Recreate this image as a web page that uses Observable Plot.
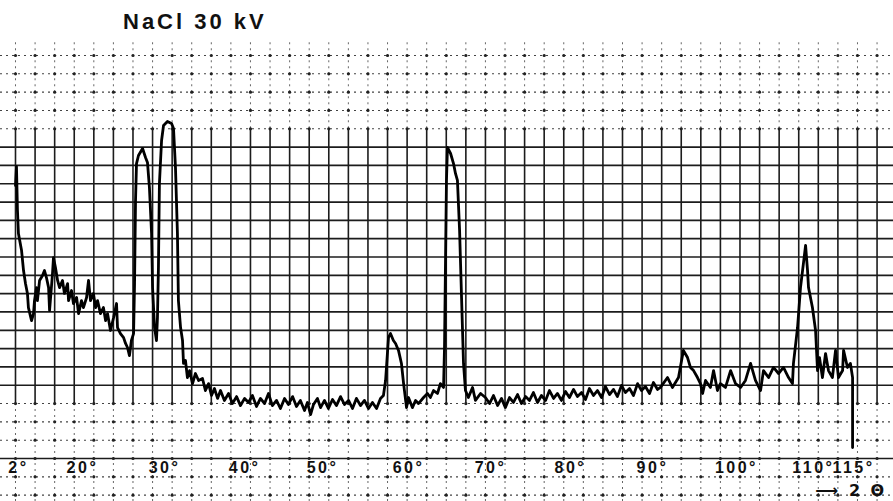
<!DOCTYPE html>
<html><head><meta charset="utf-8">
<script src="https://cdn.jsdelivr.net/npm/d3@7"></script>
<script src="https://cdn.jsdelivr.net/npm/@observablehq/plot@0.6"></script>
<style>
body{margin:0;background:#fff;}
#title{height:40px;font-family:"Liberation Sans",Arial,sans-serif;font-size:22px;font-weight:bold;letter-spacing:3px;color:#111;padding-left:123px;line-height:44px;box-sizing:border-box;}
#chart text{letter-spacing:2.5px;}
#chart text.arrowlabel{letter-spacing:1px;}
</style></head><body>
<div id="title">NaCl 30 kV</div>
<div id="chart"></div>
<script>
// Trace: x = chart-paper divisions along 2θ, y = detector signal in chart divisions
const traceX = [
0.00,0.05,0.10,0.15,0.31,0.41,0.51,0.61,0.66,0.82,0.92,0.97,1.07,1.12,1.23,1.38,1.48,1.58,1.69,1.74,
1.89,1.94,2.04,2.15,2.25,2.40,2.50,2.66,2.71,2.86,2.96,3.12,3.22,3.37,3.47,3.63,3.73,3.83,3.98,4.09,
4.19,4.34,4.49,4.60,4.70,4.85,5.01,5.16,5.21,5.36,5.52,5.62,5.72,5.82,5.92,6.03,6.08,6.13,6.18,6.28,
6.49,6.64,6.74,6.84,6.95,7.00,7.10,7.20,7.25,7.30,7.35,7.46,7.56,7.76,7.97,8.07,8.17,8.27,8.32,8.43,
8.53,8.58,8.68,8.78,8.89,9.04,9.19,9.35,
9.55,9.70,9.86,10.01,10.16,10.32,10.47,10.67,10.88,11.08,11.29,11.49,11.70,11.90,12.10,12.31,12.51,12.72,12.92,13.12,
13.33,13.53,13.74,13.94,14.15,14.35,14.55,14.76,14.91,15.07,15.22,15.42,15.58,15.78,15.98,16.19,16.39,16.60,16.80,17.01,
17.21,17.41,17.62,17.82,18.03,18.23,18.44,18.64,18.79,
18.90,19.05,19.15,19.30,19.41,19.56,19.71,19.82,19.97,20.07,20.27,20.43,20.58,20.84,21.04,21.19,21.35,21.55,21.70,21.86,
21.91,21.96,22.01,22.06,22.22,22.37,22.47,22.57,22.68,22.78,22.88,22.98,23.13,23.34,23.49,23.75,24.00,
24.21,24.41,24.62,24.82,25.02,25.23,25.43,25.64,25.84,26.05,26.25,26.45,26.66,26.86,27.07,27.27,27.48,27.68,27.88,28.09,
28.29,28.50,28.70,28.91,29.11,29.31,29.52,29.72,29.93,30.13,30.34,30.54,30.74,30.95,31.15,31.36,31.56,31.77,31.97,32.17,
32.38,32.58,32.79,
32.94,33.30,33.55,33.86,34.11,34.32,34.47,34.63,34.83,34.98,35.09,35.24,35.49,35.65,35.85,36.00,36.26,36.52,36.77,37.03,
37.28,37.54,37.79,38.05,38.20,38.46,38.71,38.97,39.22,39.48,39.68,39.73,39.94,40.09,40.24,40.35,40.45,40.50,40.70,40.86,
40.96,41.06,41.21,41.37,41.52,41.72,41.88,42.03,42.24,42.29,42.49,42.64,42.75,42.75
];
const traceY = [
14.90,15.94,13.54,12.28,11.35,10.26,9.55,9.01,8.24,7.53,7.91,8.62,9.33,8.62,9.72,9.99,10.26,9.88,9.33,8.08,
10.10,10.97,10.43,9.72,9.33,9.72,9.01,9.55,8.62,9.17,8.46,8.79,7.91,8.62,8.24,8.79,9.72,8.62,9.01,8.24,
8.62,7.91,8.24,7.53,7.91,6.99,7.70,8.46,7.15,6.82,6.60,6.28,6.06,5.62,6.44,6.82,9.55,14.08,16.10,16.54,
16.92,16.43,16.16,14.79,12.28,9.33,7.15,6.44,7.70,10.43,15.01,17.36,18.18,18.40,18.29,18.01,15.88,12.28,8.62,7.15,
6.44,5.19,5.35,4.42,4.80,4.09,4.64,4.26,
4.37,3.71,4.09,3.44,3.82,3.28,3.71,3.17,3.55,3.00,3.38,2.89,3.28,3.06,3.44,2.84,3.28,3.00,3.55,2.89,
3.17,2.73,3.28,2.95,3.38,2.84,3.17,2.62,3.06,2.40,2.95,3.28,2.78,3.17,2.73,3.22,2.89,3.38,2.95,3.17,
2.73,3.28,2.89,3.17,2.73,3.06,2.73,3.28,3.44,
4.26,6.61,6.82,6.44,6.28,5.90,5.19,4.09,2.78,3.33,2.78,3.17,3.00,3.33,3.55,3.33,3.71,3.55,4.09,3.88,
6.06,10.65,15.18,16.98,16.65,16.10,15.56,15.18,12.45,8.79,5.19,3.71,3.33,3.88,3.17,3.55,3.33,
3.00,3.44,2.89,3.28,2.78,3.33,3.06,3.49,3.00,3.38,3.17,3.60,3.06,3.44,3.17,3.71,3.28,3.55,3.17,3.66,
3.33,3.77,3.38,3.60,3.22,3.82,3.44,3.71,3.33,3.93,3.49,3.77,3.38,3.99,3.60,3.82,3.44,4.09,3.71,3.93,
3.55,4.15,3.77,
3.88,4.42,3.88,4.42,5.90,5.51,4.97,4.80,4.42,4.09,3.55,4.26,3.88,4.80,3.71,4.09,3.88,4.80,4.09,3.88,
4.26,5.19,4.26,3.71,4.80,4.42,4.97,4.64,4.97,4.42,4.09,5.19,7.15,9.33,10.65,11.63,10.26,9.33,8.24,6.99,
4.80,5.51,4.42,5.73,4.80,4.42,5.90,4.42,4.80,5.90,4.97,5.19,4.42,0.60
];
// 2θ annotations written under the axis, and where they sit (divisions)
const tickLabels = ["2°","20°","30°","40°","50°","60°","70°","80°","90°","100°","110°","115°"];
const tickDiv = [0.15,3.42,7.61,11.70,15.68,20.07,24.26,28.34,32.53,36.82,40.75,42.80];
const axisTitle = "⟶ 2 Θ";

const trace = traceX.map((x, i) => ({x, y: traceY[i]}));
const labels = tickLabels.map((t, i) => ({x: tickDiv[i], t}));
const cols = d3.range(0, 45);
const solidRows = d3.range(4, 18);
const dottedRows = [-2, -1, 1, 2, 3, 18, 19, 20, 21, 22];
const dotRows = [-2, -1, 0, 1, 2, 3, 18, 19, 20, 21, 22];
const inter = dotRows.flatMap(r => cols.map(c => ({x: c, y: r})));

const chart = Plot.plot({
  width: 893, height: 461,
  marginTop: 0, marginBottom: 0, marginLeft: 0, marginRight: 0,
  x: {domain: [-0.766, 44.84], axis: null},
  y: {domain: [-2.347, 22.819], axis: null},
  style: {background: "#fff", fontFamily: "Liberation Sans, Arial, sans-serif"},
  marks: [
    Plot.ruleY(dottedRows, {stroke: "#444", strokeWidth: 1.1, strokeDasharray: "2,4"}),
    Plot.ruleY(solidRows, {stroke: "#1c1c1c", strokeWidth: 1.7}),
    Plot.ruleY([0], {stroke: "#1c1c1c", strokeWidth: 1.6}),
    Plot.ruleX(cols, {y1: 3, y2: 18, stroke: "#1c1c1c", strokeWidth: 1.6}),
    Plot.ruleX(cols, {y1: 18, y2: 22.819, stroke: "#666", strokeWidth: 1, strokeDasharray: "2,4"}),
    Plot.ruleX(cols, {y1: -2.347, y2: 3, stroke: "#666", strokeWidth: 1, strokeDasharray: "2,4"}),
    Plot.dot(inter, {x: "x", y: "y", r: 1.6, fill: "#222", stroke: "none"}),
    Plot.line(trace, {x: "x", y: "y", stroke: "#000", strokeWidth: 2.8, strokeLinejoin: "round", strokeLinecap: "round", curve: "linear"}),
    Plot.text(labels, {x: "x", y: -0.49, text: "t", fontSize: 16, fontWeight: "bold", fill: "#111", textAnchor: "middle", lineAnchor: "middle"}),
    Plot.text([axisTitle], {x: 40.85, y: -1.78, text: d => d, fontSize: 16, fontWeight: "bold", fill: "#111", fontFamily: "DejaVu Sans, sans-serif", textAnchor: "start", lineAnchor: "middle", className: "arrowlabel"})
  ]
});
document.getElementById("chart").append(chart);
</script>
</body></html>
